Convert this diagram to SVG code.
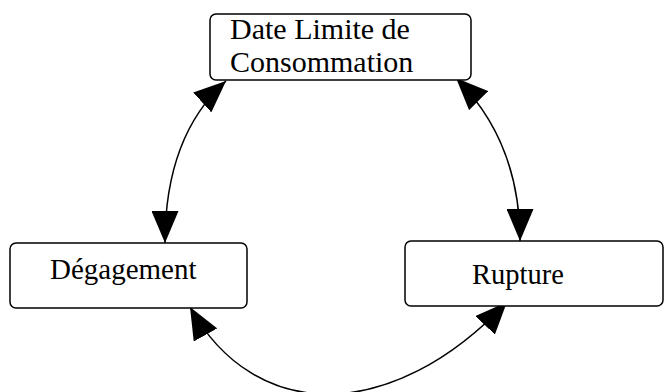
<svg xmlns="http://www.w3.org/2000/svg" width="666" height="392" viewBox="0 0 666 392">
  <style>
    .box { fill: #ffffff; stroke: #000000; stroke-width: 1.5; }
    .label { font-family: "Liberation Serif", "Times New Roman", serif; font-size: 29px; fill: #000000; }
    .link { fill: none; stroke: #000000; stroke-width: 1.5; marker-start: url(#head); marker-end: url(#head); }
  </style>
  <defs>
    <marker id="head" viewBox="0 0 32 27" refX="32" refY="13.5" markerWidth="32" markerHeight="27" markerUnits="userSpaceOnUse" orient="auto-start-reverse">
      <path d="M0,0 L32,13.5 L0,27 Z" fill="#000000"/>
    </marker>
  </defs>

  <g id="connectors">
    <path class="link" d="M226,81 Q165,136 165,243"/>
    <path class="link" d="M456,78 Q520,142 520,241"/>
    <path class="link" d="M190,307 C255,424 392,424 507,302"/>
  </g>

  <g id="node-dlc">
    <rect class="box" x="210" y="14" width="261" height="66" rx="6"/>
    <text class="label" x="230" y="39" style="font-size:30px">Date Limite de</text>
    <text class="label" x="230" y="72" style="font-size:30px">Consommation</text>
  </g>

  <g id="node-degagement">
    <rect class="box" x="10" y="243" width="237" height="65" rx="6"/>
    <text class="label" x="50" y="279">Dégagement</text>
  </g>

  <g id="node-rupture">
    <rect class="box" x="405" y="241" width="258" height="65" rx="6"/>
    <text class="label" x="472" y="284" style="font-size:28.5px">Rupture</text>
  </g>
</svg>
